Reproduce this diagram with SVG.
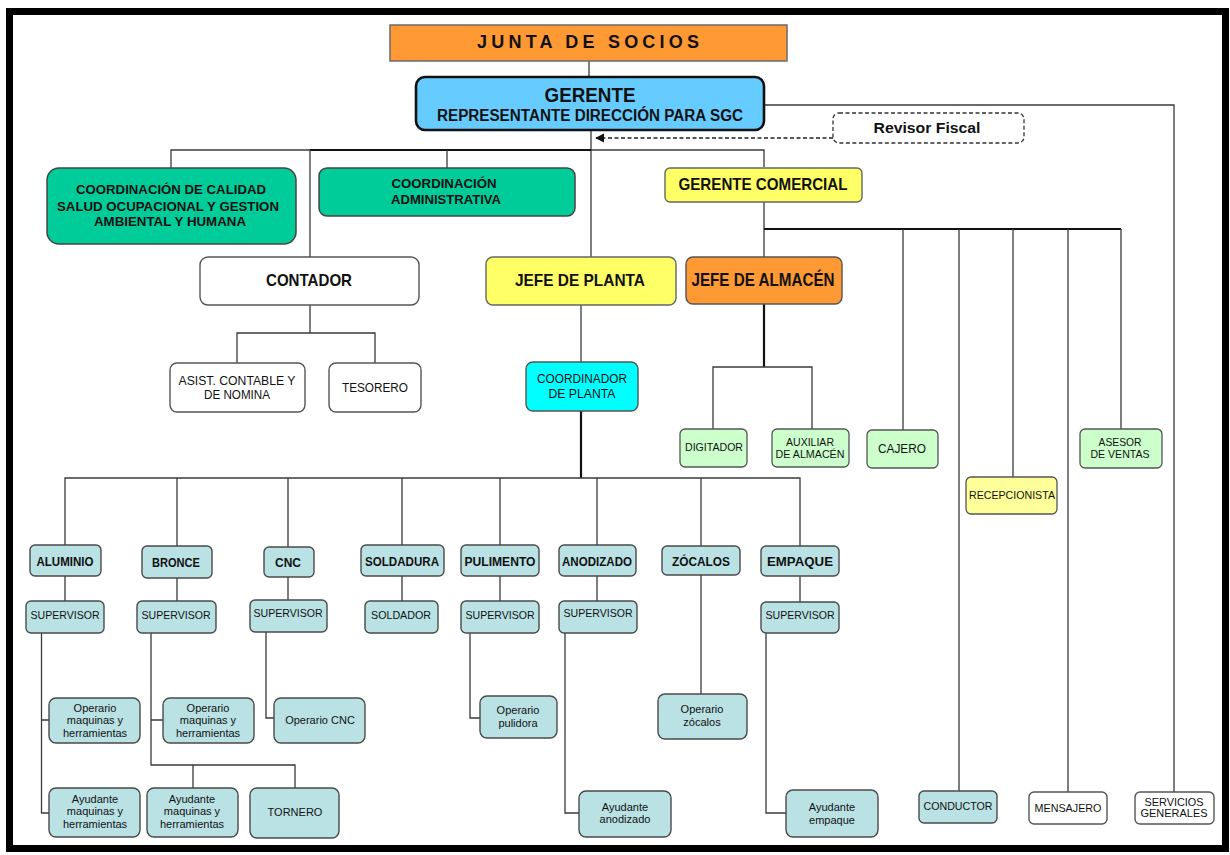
<svg xmlns="http://www.w3.org/2000/svg" width="1230" height="855" viewBox="0 0 1230 855">
<style>
text{font-family:"Liberation Sans",Arial,Helvetica,sans-serif;fill:#111;text-anchor:middle}
.b{font-weight:bold}
.c{fill:none;stroke:#3a3a3a;stroke-width:1.3}
.ct{fill:none;stroke:#111;stroke-width:2.2}
.box{stroke:#555;stroke-width:1.4}
.teal{fill:#BAE1E4;stroke:#4a4a4a;stroke-width:1.4}
.green{fill:#CCFFCC;stroke:#555;stroke-width:1.3}
.white{fill:#fff;stroke:#555;stroke-width:1.4}
.s{font-size:11px}
</style>
<defs>
<marker id="ah" viewBox="0 0 10 10" refX="9" refY="5" markerWidth="7" markerHeight="7" orient="auto">
<path d="M0,0 L10,5 L0,10 z" fill="#111"/>
</marker>
</defs>
<rect x="0" y="0" width="1230" height="855" fill="#fff"/>
<rect x="9.5" y="11.5" width="1216" height="837" fill="none" stroke="#000" stroke-width="7"/>

<g id="connectors">
<path class="c" d="M589,61 V78"/>
<path class="c" d="M591,130 V257"/>
<path class="c" d="M171,168 V150 H764 V167"/>
<path class="ct" d="M310,150 H591"/>
<path class="c" d="M310,150 V257"/>
<path class="c" d="M447,150 V168"/>
<path d="M833,138 H596" fill="none" stroke="#222" stroke-width="1.3" stroke-dasharray="4,2.5" marker-end="url(#ah)"/>
<path class="c" d="M764,105 H1174 V792"/>
<path class="c" d="M764,202 V257"/>
<path class="ct" d="M764,229 H1121"/>
<path class="c" d="M903,229 V430 M959,229 V791 M1013,229 V477 M1068,229 V792 M1121,229 V429"/>
<path class="ct" d="M764,304 V367"/>
<path class="c" d="M713,429 V367 H812 V429"/>
<path class="c" d="M310,305 V333 M237,363 V333 H375 V363"/>
<path class="c" d="M581,305 V362"/>
<path class="ct" d="M581,411 V478"/>
<path class="c" d="M65,545 V478 H800 V546"/>
<path class="c" d="M177,478 V546 M288,478 V547 M402,478 V545 M500,478 V545 M597,478 V545 M701,478 V546"/>
<path class="c" d="M65,576 V601 M177,578 V601 M288,577 V600 M402,576 V601 M500,576 V601 M597,576 V601 M800,575 V602"/>
<path class="c" d="M41.5,633 V813 H49 M41.5,720 H49"/>
<path class="c" d="M151,633 V765 H295 V788 M193,765 V788 M151,720 H163"/>
<path class="c" d="M266,632 V718 H274"/>
<path class="c" d="M470,633 V718 H480"/>
<path class="c" d="M565,633 V813 H579"/>
<path class="c" d="M701,575 V694"/>
<path class="c" d="M766,633 V813 H786"/>
</g>

<g id="junta"><rect x="390" y="25" width="397" height="36" fill="#FF9933" stroke="#6b6b6b" stroke-width="1.5"/>
<text class="b" x="588" y="48" font-size="18" textLength="222" lengthAdjust="spacing">JUNTA DE SOCIOS</text></g>

<g id="gerente"><rect x="416" y="77" width="348" height="53" rx="9" fill="#66CCFF" stroke="#111" stroke-width="2.6"/>
<text class="b" x="590" y="102" font-size="21" textLength="91" lengthAdjust="spacingAndGlyphs">GERENTE</text>
<text class="b" x="590" y="121" font-size="16" textLength="306" lengthAdjust="spacingAndGlyphs">REPRESENTANTE DIRECCIÓN PARA SGC</text></g>

<g id="revisor"><rect x="833" y="113" width="191" height="30" rx="6" fill="#fff" stroke="#333" stroke-width="1.3" stroke-dasharray="4,2.5"/>
<text class="b" x="927" y="133" font-size="15" fill="#222" textLength="107" lengthAdjust="spacingAndGlyphs">Revisor  Fiscal</text></g>

<g id="coord-calidad"><rect x="47" y="168" width="249" height="76" rx="12" fill="#00CC99" stroke="#444" stroke-width="1.5"/>
<text class="b" x="171" y="194" font-size="13" textLength="190" lengthAdjust="spacingAndGlyphs">COORDINACIÓN DE CALIDAD</text>
<text class="b" x="168" y="211" font-size="13" textLength="222" lengthAdjust="spacingAndGlyphs">SALUD OCUPACIONAL  Y GESTION</text>
<text class="b" x="170" y="226" font-size="13" textLength="152" lengthAdjust="spacingAndGlyphs">AMBIENTAL Y HUMANA</text></g>

<g id="coord-admin"><rect x="319" y="168" width="256" height="48" rx="8" fill="#00CC99" stroke="#444" stroke-width="1.5"/>
<text class="b" x="444" y="188" font-size="13" textLength="105" lengthAdjust="spacingAndGlyphs">COORDINACIÓN</text>
<text class="b" x="446" y="204" font-size="13" textLength="110" lengthAdjust="spacingAndGlyphs">ADMINISTRATIVA</text></g>

<g id="gerente-comercial"><rect x="665" y="168" width="197" height="34" rx="5" fill="#FFFF66" stroke="#666" stroke-width="1.4"/>
<text class="b" x="763" y="190" font-size="17" textLength="169" lengthAdjust="spacingAndGlyphs">GERENTE COMERCIAL</text></g>

<g id="contador"><rect x="200" y="257" width="219" height="48" rx="8" class="white"/>
<text class="b" x="309" y="286" font-size="17" fill="#222" textLength="86" lengthAdjust="spacingAndGlyphs">CONTADOR</text></g>

<g id="jefe-planta"><rect x="486" y="257" width="190" height="48" rx="7" fill="#FFFF66" stroke="#666" stroke-width="1.4"/>
<text class="b" x="580" y="286" font-size="17" textLength="130" lengthAdjust="spacingAndGlyphs">JEFE DE PLANTA</text></g>

<g id="jefe-almacen"><rect x="686" y="257" width="156" height="47" rx="7" fill="#FF9933" stroke="#555" stroke-width="1.4"/>
<text class="b" x="763" y="286" font-size="18" textLength="143" lengthAdjust="spacingAndGlyphs">JEFE DE ALMACÉN</text></g>

<g id="asist-contable"><rect x="170" y="363" width="135" height="49" rx="7" class="white"/>
<text x="237" y="385" font-size="12" fill="#333" textLength="117" lengthAdjust="spacingAndGlyphs">ASIST. CONTABLE Y</text>
<text x="237" y="399" font-size="12" fill="#333" textLength="66" lengthAdjust="spacingAndGlyphs">DE NOMINA</text></g>

<g id="tesorero"><rect x="329" y="363" width="92" height="49" rx="7" class="white"/>
<text x="375" y="392" font-size="12" fill="#333" textLength="66" lengthAdjust="spacingAndGlyphs">TESORERO</text></g>

<g id="coordinador-planta"><rect x="526" y="362" width="112" height="49" rx="7" fill="#00FFFF" stroke="#555" stroke-width="1.4"/>
<text x="582" y="383" font-size="12" fill="#333" textLength="90" lengthAdjust="spacingAndGlyphs">COORDINADOR</text>
<text x="582" y="398" font-size="12" fill="#333" textLength="67" lengthAdjust="spacingAndGlyphs">DE PLANTA</text></g>

<g id="digitador"><rect x="680" y="429" width="67" height="38" rx="5" class="green"/>
<text x="714" y="451" font-size="11" textLength="58" lengthAdjust="spacingAndGlyphs">DIGITADOR</text></g>

<g id="auxiliar-almacen"><rect x="772" y="429" width="77" height="38" rx="5" class="green"/>
<text x="810" y="446" font-size="11" textLength="48" lengthAdjust="spacingAndGlyphs">AUXILIAR</text>
<text x="810" y="458" font-size="11" textLength="69" lengthAdjust="spacingAndGlyphs">DE ALMACÉN</text></g>

<g id="cajero"><rect x="867" y="430" width="71" height="38" rx="5" class="green"/>
<text x="902" y="453" font-size="12" textLength="48" lengthAdjust="spacingAndGlyphs">CAJERO</text></g>

<g id="recepcionista"><rect x="966" y="477" width="91" height="37" rx="5" fill="#FFFF99" stroke="#555" stroke-width="1.3"/>
<text x="1012" y="499" font-size="11" textLength="86" lengthAdjust="spacingAndGlyphs">RECEPCIONISTA</text></g>

<g id="asesor-ventas"><rect x="1080" y="429" width="82" height="39" rx="5" class="green"/>
<text x="1120" y="446" font-size="11" textLength="43" lengthAdjust="spacingAndGlyphs">ASESOR</text>
<text x="1120" y="458" font-size="11" textLength="59" lengthAdjust="spacingAndGlyphs">DE VENTAS</text></g>

<g id="aluminio"><rect x="30" y="545" width="71" height="31" rx="5" class="teal"/>
<text class="b" x="65" y="566" font-size="12" textLength="57" lengthAdjust="spacingAndGlyphs">ALUMINIO</text></g>
<g id="bronce"><rect x="142" y="546" width="70" height="32" rx="5" class="teal"/>
<text class="b" x="176" y="567" font-size="12" textLength="48" lengthAdjust="spacingAndGlyphs">BRONCE</text></g>
<g id="cnc"><rect x="264" y="547" width="50" height="30" rx="5" class="teal"/>
<text class="b" x="288" y="567" font-size="12" textLength="26" lengthAdjust="spacingAndGlyphs">CNC</text></g>
<g id="soldadura"><rect x="361" y="545" width="83" height="31" rx="5" class="teal"/>
<text class="b" x="402" y="566" font-size="12" textLength="74" lengthAdjust="spacingAndGlyphs">SOLDADURA</text></g>
<g id="pulimento"><rect x="461" y="545" width="78" height="31" rx="5" class="teal"/>
<text class="b" x="500" y="566" font-size="12" textLength="71" lengthAdjust="spacingAndGlyphs">PULIMENTO</text></g>
<g id="anodizado"><rect x="559" y="545" width="77" height="31" rx="5" class="teal"/>
<text class="b" x="597" y="566" font-size="12" textLength="70" lengthAdjust="spacingAndGlyphs">ANODIZADO</text></g>
<g id="zocalos"><rect x="662" y="546" width="78" height="29" rx="5" class="teal"/>
<text class="b" x="701" y="566" font-size="12" textLength="58" lengthAdjust="spacingAndGlyphs">ZÓCALOS</text></g>
<g id="empaque"><rect x="761" y="546" width="78" height="30" rx="5" class="teal"/>
<text class="b" x="800" y="566" font-size="12" textLength="66" lengthAdjust="spacingAndGlyphs">EMPAQUE</text></g>

<g id="sup-aluminio"><rect x="26" y="601" width="78" height="32" rx="5" class="teal"/>
<text x="65" y="619" font-size="11.5" textLength="69" lengthAdjust="spacingAndGlyphs">SUPERVISOR</text></g>
<g id="sup-bronce"><rect x="137" y="601" width="79" height="32" rx="5" class="teal"/>
<text x="176" y="619" font-size="11.5" textLength="69" lengthAdjust="spacingAndGlyphs">SUPERVISOR</text></g>
<g id="sup-cnc"><rect x="250" y="600" width="77" height="32" rx="5" class="teal"/>
<text x="288" y="617" font-size="11.5" textLength="69" lengthAdjust="spacingAndGlyphs">SUPERVISOR</text></g>
<g id="soldador"><rect x="365" y="601" width="73" height="32" rx="5" class="teal"/>
<text x="401" y="619" font-size="11.5" textLength="60" lengthAdjust="spacingAndGlyphs">SOLDADOR</text></g>
<g id="sup-pulimento"><rect x="461" y="601" width="78" height="32" rx="5" class="teal"/>
<text x="500" y="619" font-size="11.5" textLength="69" lengthAdjust="spacingAndGlyphs">SUPERVISOR</text></g>
<g id="sup-anodizado"><rect x="559" y="601" width="78" height="32" rx="5" class="teal"/>
<text x="598" y="617" font-size="11.5" textLength="69" lengthAdjust="spacingAndGlyphs">SUPERVISOR</text></g>
<g id="sup-empaque"><rect x="761" y="602" width="78" height="31" rx="5" class="teal"/>
<text x="800" y="619" font-size="11.5" textLength="69" lengthAdjust="spacingAndGlyphs">SUPERVISOR</text></g>

<g id="operario-aluminio"><rect x="49" y="698" width="91" height="45" rx="7" class="teal"/>
<text class="s" x="95" y="712">Operario</text><text class="s" x="95" y="724">maquinas y</text><text class="s" x="95" y="737">herramientas</text></g>
<g id="ayudante-aluminio"><rect x="49" y="788" width="91" height="49" rx="7" class="teal"/>
<text class="s" x="95" y="803">Ayudante</text><text class="s" x="95" y="815">maquinas y</text><text class="s" x="95" y="828">herramientas</text></g>
<g id="operario-bronce"><rect x="163" y="698" width="91" height="45" rx="7" class="teal"/>
<text class="s" x="208" y="712">Operario</text><text class="s" x="208" y="724">maquinas y</text><text class="s" x="208" y="737">herramientas</text></g>
<g id="ayudante-bronce"><rect x="147" y="788" width="91" height="49" rx="7" class="teal"/>
<text class="s" x="192" y="803">Ayudante</text><text class="s" x="192" y="815">maquinas y</text><text class="s" x="192" y="828">herramientas</text></g>
<g id="tornero"><rect x="250" y="788" width="89" height="50" rx="7" class="teal"/>
<text class="s" x="295" y="816">TORNERO</text></g>
<g id="operario-cnc"><rect x="274" y="698" width="91" height="45" rx="7" class="teal"/>
<text class="s" x="320" y="724">Operario CNC</text></g>
<g id="operario-pulidora"><rect x="480" y="696" width="77" height="42" rx="7" class="teal"/>
<text class="s" x="518" y="714">Operario</text><text class="s" x="518" y="727">pulidora</text></g>
<g id="ayudante-anodizado"><rect x="579" y="791" width="92" height="46" rx="7" class="teal"/>
<text class="s" x="625" y="811">Ayudante</text><text class="s" x="625" y="823">anodizado</text></g>
<g id="operario-zocalos"><rect x="658" y="694" width="89" height="45" rx="7" class="teal"/>
<text class="s" x="702" y="713">Operario</text><text class="s" x="702" y="726">zócalos</text></g>
<g id="ayudante-empaque"><rect x="786" y="790" width="92" height="47" rx="7" class="teal"/>
<text class="s" x="832" y="811">Ayudante</text><text class="s" x="832" y="824">empaque</text></g>

<g id="conductor"><rect x="919" y="791" width="78" height="32" rx="5" class="teal"/>
<text x="958" y="810" font-size="11.5" textLength="69" lengthAdjust="spacingAndGlyphs">CONDUCTOR</text></g>
<g id="mensajero"><rect x="1029" y="792" width="78" height="32" rx="5" class="white"/>
<text x="1068" y="812" font-size="11.5" textLength="67" lengthAdjust="spacingAndGlyphs">MENSAJERO</text></g>
<g id="servicios-generales"><rect x="1135" y="792" width="79" height="32" rx="5" class="white"/>
<text x="1174" y="806" font-size="11" textLength="59" lengthAdjust="spacingAndGlyphs">SERVICIOS</text>
<text x="1174" y="817" font-size="11" textLength="67" lengthAdjust="spacingAndGlyphs">GENERALES</text></g>
</svg>
